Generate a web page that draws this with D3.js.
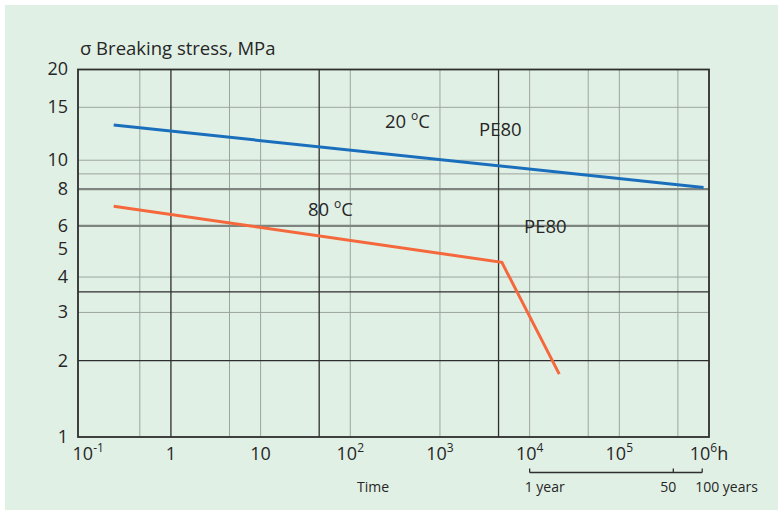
<!DOCTYPE html>
<html><head><meta charset="utf-8">
<script src="https://cdn.jsdelivr.net/npm/d3@7"></script>
<style>
html,body{margin:0;padding:0;background:#fff;}
text{font-family:"Open Sans","Noto Sans",sans-serif;fill:#262626;}
</style></head>
<body>
<script>
// ---- data ----
const xTickValues = [0.1, 1, 10, 100, 1000, 1e4, 1e5, 1e6];
const xTickBase = ["10", "1", "10", "10", "10", "10", "10", "10"];
const xTickSup = ["-1", "", "", "2", "3", "4", "5", "6"];
const yTickValues = [1, 2, 3, 4, 5, 6, 8, 10, 15, 20];
const xGridThin = [0.45, 4.5, 10, 100, 1000, 1e4, 45000, 1e5, 450000];
const xGridThick = [1, 45, 4500];
const yGridThin = [3, 4, 9, 10, 15];
const yGridGrey = [6, 8];
const yGridDark = [2, 3.55];
const blueTime = [0.23, 8.7e5];
const blueStress = [13.1, 8.1];
const orangeTime = [0.23, 4900, 21400];
const orangeStress = [7, 4.5, 1.78];
const bracketHours = [1e4, 4e5, 8.4e5];
const bracketLabels = ["1 year", "50", "100 years"];

const W = 778, H = 513;
const svg = d3.select("body").append("svg").attr("width", W).attr("height", H);
svg.append("rect").attr("x", 5).attr("y", 5).attr("width", W - 5).attr("height", H - 8).attr("fill", "#e1f0e5");

const pL = 78, pR = 709, pT = 69.5, pB = 437;
const x = d3.scaleLog().domain([0.092, 1e6]).range([pL, pR]);
const y = d3.scaleSymlog().constant(0.3).domain([1, 20]).range([pB, pT]);

const g = svg.append("g");
// grid
g.selectAll(".vthin").data(xGridThin).join("line")
  .attr("x1", d => x(d)).attr("x2", d => x(d)).attr("y1", pT).attr("y2", pB)
  .attr("stroke", "#9aa59e").attr("stroke-width", 1);
g.selectAll(".hthin").data(yGridThin).join("line")
  .attr("y1", d => y(d)).attr("y2", d => y(d)).attr("x1", pL).attr("x2", pR)
  .attr("stroke", "#9aa59e").attr("stroke-width", 1);
g.selectAll(".hgrey").data(yGridGrey).join("line")
  .attr("y1", d => y(d)).attr("y2", d => y(d)).attr("x1", pL).attr("x2", pR)
  .attr("stroke", "#7e8581").attr("stroke-width", 2.2);
g.selectAll(".vthick").data(xGridThick).join("line")
  .attr("x1", d => x(d)).attr("x2", d => x(d)).attr("y1", pT).attr("y2", pB)
  .attr("stroke", "#2e2e2e").attr("stroke-width", 1.3);
g.selectAll(".hdark").data(yGridDark).join("line")
  .attr("y1", d => y(d)).attr("y2", d => y(d)).attr("x1", pL).attr("x2", pR)
  .attr("stroke", "#2e2e2e").attr("stroke-width", 1.3);

// frame
g.append("rect").attr("x", pL).attr("y", pT).attr("width", pR - pL).attr("height", pB - pT)
  .attr("fill", "none").attr("stroke", "#2e2e2e").attr("stroke-width", 1.8);

// series
const line = d3.line().x(d => x(d[0])).y(d => y(d[1]));
g.append("path").datum(blueTime.map((t, i) => [t, blueStress[i]]))
  .attr("d", line).attr("fill", "none").attr("stroke", "#1a6fbd").attr("stroke-width", 3);
g.append("path").datum(orangeTime.map((t, i) => [t, orangeStress[i]]))
  .attr("d", line).attr("fill", "none").attr("stroke", "#f4683c").attr("stroke-width", 3);

// y tick labels
svg.selectAll(".ylab").data(yTickValues).join("text")
  .attr("x", 68).attr("y", d => y(d)).attr("dy", "0.33em")
  .attr("text-anchor", "end").attr("font-size", 18).text(d => d);

// x tick labels
const xl = svg.selectAll(".xlab").data(xTickValues).join("text")
  .attr("x", d => x(d)).attr("dx", (d, i) => i === 0 ? 7 : 0)
  .attr("y", 460).attr("text-anchor", "middle").attr("font-size", 18);
xl.append("tspan").text((d, i) => xTickBase[i]);
xl.append("tspan").attr("font-size", 12).attr("dy", -8).text((d, i) => xTickSup[i]);
xl.filter((d, i) => i === xTickValues.length - 1).append("tspan").attr("dy", 8).text("h");

// axis title
svg.append("text").attr("x", 80).attr("y", 55).attr("font-size", 18.5).text("σ Breaking stress, MPa");
svg.append("text").attr("x", 357).attr("y", 492).attr("font-size", 14).text("Time");

// bracket
const by = 472.5;
svg.append("line").attr("x1", x(bracketHours[0])).attr("x2", x(bracketHours[2]))
  .attr("y1", by).attr("y2", by).attr("stroke", "#2e2e2e").attr("stroke-width", 1.3);
svg.selectAll(".btick").data(bracketHours).join("line")
  .attr("x1", d => x(d)).attr("x2", d => x(d)).attr("y1", by).attr("y2", by - 4)
  .attr("stroke", "#2e2e2e").attr("stroke-width", 1.3);
svg.selectAll(".blab").data(bracketHours).join("text")
  .attr("x", d => x(d)).attr("y", 492).attr("font-size", 14)
  .attr("text-anchor", (d, i) => i === 1 ? "middle" : "start")
  .attr("dx", (d, i) => i === 0 ? -5 : (i === 2 ? -7 : -5))
  .text((d, i) => bracketLabels[i]);

// annotations
function degLabel(xp, yp, num) {
  const t = svg.append("text").attr("x", xp).attr("y", yp).attr("font-size", 18.5);
  t.append("tspan").text(num + " ");
  t.append("tspan").attr("font-size", 12).attr("dy", -8).text("o");
  t.append("tspan").attr("dy", 8).text("C");
}
degLabel(385, 128, "20");
degLabel(308, 216, "80");
svg.append("text").attr("x", 479).attr("y", 136).attr("font-size", 18.5).text("PE80");
svg.append("text").attr("x", 524).attr("y", 233).attr("font-size", 18.5).text("PE80");
</script>
</body></html>
